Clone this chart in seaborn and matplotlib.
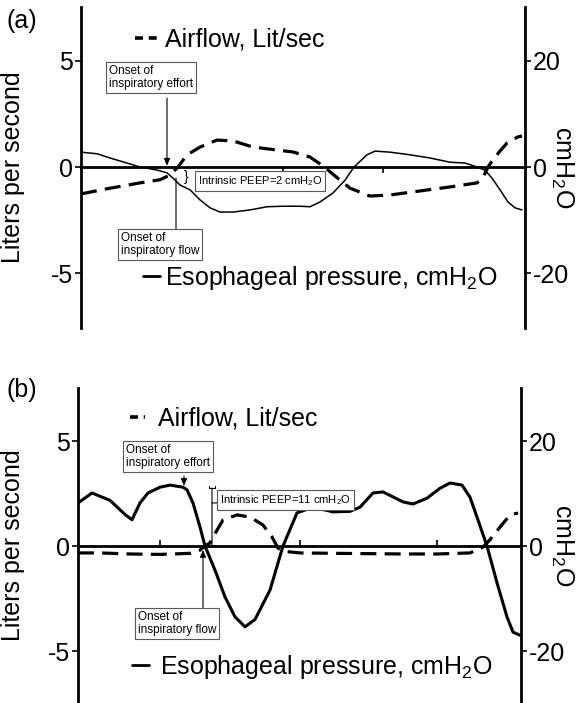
import numpy as np
import pandas as pd
import matplotlib
matplotlib.use("Agg")
import matplotlib.pyplot as plt
from matplotlib.lines import Line2D
import seaborn as sns

# ---------------- data (time in s, airflow in L/s, pressure in cmH2O) ----------------
a_flow_t = [0.00, 0.29, 0.59, 0.79, 0.89, 0.97, 1.06, 1.19, 1.36, 1.52, 1.72, 1.96, 2.12,
            2.29, 2.42, 2.54, 2.69, 2.89, 3.09, 3.39, 3.69, 3.96, 4.02, 4.07, 4.12, 4.19,
            4.26, 4.37, 4.41]
a_flow_v = [-1.27, -1.00, -0.75, -0.60, -0.38, 0.00, 0.57, 0.94, 1.27, 1.23, 0.94, 0.80, 0.71,
            0.47, 0.05, -0.42, -1.00, -1.37, -1.32, -1.13, -0.94, -0.75, -0.50, 0.00, 0.35, 0.75,
            1.13, 1.42, 1.46]

a_pes_t = [0.00, 0.16, 0.29, 0.46, 0.59, 0.76, 0.86, 0.92, 0.99, 1.09, 1.19, 1.29, 1.39, 1.52,
           1.69, 1.86, 2.02, 2.19, 2.29, 2.39, 2.52, 2.64, 2.73, 2.86, 2.94, 3.09, 3.29, 3.49,
           3.69, 3.84, 3.96, 4.04, 4.11, 4.19, 4.27, 4.34, 4.41]
a_pes_v = [2.8, 2.5, 1.7, 0.75, 0.0, -0.57, -1.1, -2.1, -3.4, -4.3, -6.2, -7.7, -8.5, -8.5,
           -8.1, -7.5, -7.4, -7.4, -7.5, -6.6, -4.9, -2.5, 0.0, 2.3, 3.0, 2.8, 2.3, 1.7,
           0.9, 0.75, 0.0, -0.6, -2.1, -4.3, -6.6, -7.7, -8.1]

b_flow_t = [0.00, 0.22, 0.52, 0.82, 1.12, 1.22, 1.27, 1.32, 1.35, 1.45, 1.59, 1.72, 1.85, 1.94,
            2.00, 2.05, 2.22, 2.59, 3.25, 3.59, 3.92, 4.05, 4.12, 4.22, 4.32, 4.40]
b_flow_v = [-0.33, -0.33, -0.38, -0.40, -0.35, -0.20, 0.00, 0.15, 0.43, 1.24, 1.48, 1.38, 1.00,
            0.43, -0.10, -0.25, -0.33, -0.35, -0.38, -0.38, -0.33, -0.05, 0.30, 0.90, 1.48, 1.57]

b_pes_t = [0.00, 0.14, 0.32, 0.47, 0.54, 0.62, 0.70, 0.82, 0.92, 1.05, 1.09, 1.15, 1.22, 1.27,
           1.37, 1.47, 1.57, 1.67, 1.77, 1.92, 2.05, 2.19, 2.35, 2.55, 2.72, 2.82, 2.95, 3.05,
           3.25, 3.35, 3.49, 3.62, 3.72, 3.84, 3.92, 3.99, 4.09, 4.19, 4.29, 4.35, 4.42]
b_pes_v = [8.2, 10.1, 8.7, 6.0, 5.0, 8.2, 10.1, 11.2, 11.6, 11.2, 10.7, 8.2, 3.6, 0.0,
           -4.6, -9.7, -13.5, -15.4, -14.0, -8.4, 0.0, 6.3, 7.4, 6.5, 6.6, 7.4, 10.1, 10.3,
           8.4, 8.0, 9.1, 11.0, 12.0, 11.6, 9.3, 5.5, 0.0, -7.0, -13.5, -16.4, -17.0]

left_ticks = [-5, 0, 5]
right_ticks = [-20, 0, 20]
a_xticks = [2.02, 3.02]
b_xticks = [0.82, 2.22, 3.59]

flow_label = "Airflow, Lit/sec"
pes_label = "Esophageal pressure, cmH$_2$O"
left_label = "Liters per second"
right_label = "cmH$_2$O"

# ---------------- style ----------------
sns.set_theme(style="ticks", rc={
    "axes.edgecolor": "black", "text.color": "black", "xtick.color": "black",
    "ytick.color": "black", "axes.labelcolor": "black"})
plt.rcParams["font.family"] = ["Liberation Sans", "DejaVu Sans"]
plt.rcParams["mathtext.fontset"] = "custom"
plt.rcParams["mathtext.rm"] = "Liberation Sans"
plt.rcParams["mathtext.it"] = "Liberation Sans:italic"
plt.rcParams["mathtext.default"] = "regular"

W, H = 577, 703
fig = plt.figure(figsize=(W / 100, H / 100), dpi=100)
fig.patch.set_facecolor("white")

FS = 18
DASH = (0, (5.0, 2.6))


def setup_panel(rect, ylim, xlim, xticks, tickdir):
    ax = fig.add_axes(rect)
    ax2 = ax.twinx()
    for a in (ax, ax2):
        a.set_facecolor("none")
    ax.set_xlim(*xlim)
    ax.set_ylim(*ylim)
    ax2.set_ylim(ylim[0] * 4, ylim[1] * 4)
    ax.spines["top"].set_visible(False)
    ax.spines["right"].set_visible(False)
    ax.spines["bottom"].set_position(("data", 0))
    for s in ("left", "bottom"):
        ax.spines[s].set_linewidth(2.0)
    for s in ("top", "left", "bottom"):
        ax2.spines[s].set_visible(False)
    ax2.spines["right"].set_linewidth(2.0)
    ax.set_yticks(left_ticks)
    ax.set_yticklabels([str(v) for v in left_ticks])
    ax2.set_yticks(right_ticks)
    ax2.set_yticklabels([str(v) for v in right_ticks])
    ax.tick_params(axis="y", direction="out", length=4, width=1.2, pad=1.5, labelsize=FS)
    ax2.tick_params(axis="y", direction="out", length=4, width=1.2, pad=1.5, labelsize=FS)
    ax.set_xticks(xticks)
    ax.set_xticklabels([])
    ax.tick_params(axis="x", direction=tickdir, length=4, width=1.2)
    return ax, ax2


def draw_curves(ax, ax2, ft, fv, pt, pv, pes_lw):
    df_f = pd.DataFrame({"t": ft, "v": fv})
    df_p = pd.DataFrame({"t": pt, "v": pv})
    sns.lineplot(data=df_f, x="t", y="v", ax=ax, color="black", lw=2.3,
                 linestyle=DASH, estimator=None, sort=False)
    sns.lineplot(data=df_p, x="t", y="v", ax=ax2, color="black", lw=pes_lw,
                 estimator=None, sort=False)
    ax.set_xlabel("")
    ax.set_ylabel(left_label, fontsize=FS)
    ax2.set_xlabel("")
    ax2.set_ylabel(right_label, fontsize=FS, rotation=-90, va="center")


def legends(ax, ax2, fx, fy, fhl, fpad, px, py, phl, ppad):
    h1 = Line2D([], [], color="black", lw=2.6, linestyle=(0, (2.2, 1.6)))
    ax.legend(handles=[h1], labels=[flow_label], loc="center left",
              bbox_to_anchor=(fx, fy), bbox_transform=ax.transData,
              frameon=False, borderpad=0, borderaxespad=0, handlelength=fhl,
              handletextpad=fpad, fontsize=FS)
    h2 = Line2D([], [], color="black", lw=2.0)
    ax2.legend(handles=[h2], labels=[pes_label], loc="center left",
               bbox_to_anchor=(px, py), bbox_transform=ax.transData,
               frameon=False, borderpad=0, borderaxespad=0, handlelength=phl,
               handletextpad=ppad, fontsize=FS)


BOX = dict(boxstyle="square,pad=0.25", fc="white", ec="0.35", lw=0.8)
AFS = 8.5
PFS = 8
HEAD = "-|>,head_length=0.35,head_width=0.15"

# ---------------- panel (a) ----------------
ylim_a = (-7.594, 7.547)
rect_a = [81 / W, 1 - 328 / H, 444 / W, 321 / H]
axa, axa2 = setup_panel(rect_a, ylim_a, (0, 4.44), a_xticks, "out")
draw_curves(axa, axa2, a_flow_t, a_flow_v, a_pes_t, a_pes_v, 1.1)
axa.yaxis.set_label_coords(-0.126, 0.5)
axa2.yaxis.set_label_coords((562 - 81) / 444, 0.5)
legends(axa, axa2, 0.54, 6.0, 0.88, 0.32, 0.62, -5.24, 0.68, 0.22)

T = axa.transData
axa2.text(0.28, 4.81, "Onset of\ninspiratory effort", transform=T, ha="left", va="top",
          fontsize=AFS, bbox=BOX, linespacing=1.15, zorder=5)
axa2.annotate("", xy=(0.86, 0.06), xytext=(0.86, 3.25), xycoords=T, textcoords=T,
              arrowprops=dict(arrowstyle=HEAD, color="black", lw=0.8, shrinkA=0, shrinkB=0))
axa2.text(0.40, -3.07, "Onset of\ninspiratory flow", transform=T, ha="left", va="top",
          fontsize=AFS, bbox=BOX, linespacing=1.15, zorder=5)
axa2.annotate("", xy=(0.95, -0.52), xytext=(0.95, -2.93), xycoords=T, textcoords=T,
              arrowprops=dict(arrowstyle="-", color="black", lw=0.8, shrinkA=0, shrinkB=0))
axa2.text(1.05, -0.45, "}", transform=T, ha="center", va="center", fontsize=10)
axa2.text(1.17, -0.66, "Intrinsic PEEP=2 cmH$_2$O", transform=T, ha="left", va="center",
          fontsize=PFS, bbox=BOX, zorder=5)

# ---------------- panel (b) ----------------
ylim_b = (-7.476, 7.524)
rect_b = [78 / W, 0, 443 / W, 315 / H]
axb, axb2 = setup_panel(rect_b, ylim_b, (0, 4.43), b_xticks, "in")
draw_curves(axb, axb2, b_flow_t, b_flow_v, b_pes_t, b_pes_v, 2.2)
axb.yaxis.set_label_coords(-0.12, 0.5)
axb2.yaxis.set_label_coords((562 - 78) / 443, 0.5)
legends(axb, axb2, 0.52, 6.05, 0.6, 0.52, 0.54, -5.76, 0.68, 0.44)

T = axb.transData
axb2.text(0.48, 4.86, "Onset of\ninspiratory effort", transform=T, ha="left", va="top",
          fontsize=AFS, bbox=BOX, linespacing=1.15, zorder=5)
axb2.annotate("", xy=(1.06, 2.86), xytext=(1.06, 3.33), xycoords=T, textcoords=T,
              arrowprops=dict(arrowstyle=HEAD, color="black", lw=0.8, shrinkA=0, shrinkB=0))
axb2.annotate("", xy=(1.34, 0.05), xytext=(1.34, 2.76), xycoords=T, textcoords=T,
              arrowprops=dict(arrowstyle="]-[,widthA=0.2,widthB=0.2,lengthA=0.15,lengthB=0.15",
                              color="black", lw=0.8, shrinkA=0, shrinkB=0))
axb2.annotate("", xy=(1.39, 2.05), xytext=(1.34, 2.05), xycoords=T, textcoords=T,
              arrowprops=dict(arrowstyle="-", color="black", lw=0.8, shrinkA=0, shrinkB=0))
axb2.text(1.42, 2.19, "Intrinsic PEEP=11 cmH$_2$O", transform=T, ha="left", va="center",
          fontsize=PFS, bbox=BOX, zorder=5)
axb2.text(0.60, -3.10, "Onset of\ninspiratory flow", transform=T, ha="left", va="top",
          fontsize=AFS, bbox=BOX, linespacing=1.15, zorder=5)
axb2.annotate("", xy=(1.25, -0.19), xytext=(1.25, -2.95), xycoords=T, textcoords=T,
              arrowprops=dict(arrowstyle=HEAD, color="black", lw=0.8, shrinkA=0, shrinkB=0))

# panel letters
fig.text(7 / W, 1 - 21 / H, "(a)", fontsize=FS, ha="left", va="center")
fig.text(7 / W, 1 - 390 / H, "(b)", fontsize=FS, ha="left", va="center")

fig.savefig("out.png", dpi=100, facecolor="white")
